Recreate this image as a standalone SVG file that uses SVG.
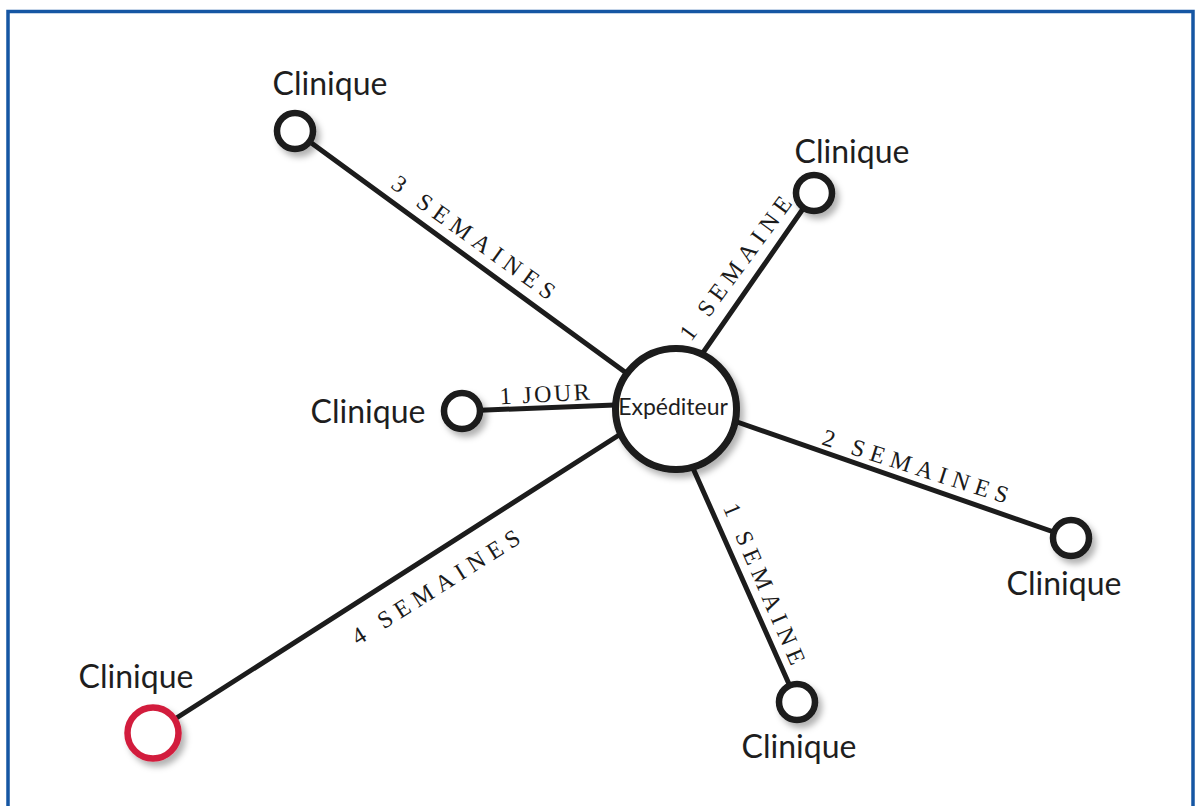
<svg xmlns="http://www.w3.org/2000/svg" width="1195" height="806" viewBox="0 0 1195 806">
  <style>
    .edge { stroke: #1c1c1c; stroke-width: 5; stroke-linecap: round; fill: none; }
    .node { fill: #ffffff; stroke: #1a1a1a; stroke-width: 6.5; filter: url(#shadow); }
    .red { stroke: #d21f3c; }
    .hub { fill: #ffffff; stroke: #1a1a1a; stroke-width: 7; filter: url(#shadow); }
    .name { font-family: Lato, "Liberation Sans", sans-serif; font-size: 32px; fill: #1e1e1e; text-anchor: middle; }
    .hubtext { font-family: Lato, "Liberation Sans", sans-serif; font-size: 23px; fill: #1e1e1e; text-anchor: middle; }
    .lbl { font-family: "Liberation Serif", "Times New Roman", serif; font-size: 24px; fill: #1a1a1a; text-anchor: middle; }
  </style>
  <defs>
    <filter id="shadow" x="-50%" y="-50%" width="200%" height="200%">
      <feDropShadow dx="4" dy="5" stdDeviation="3" flood-color="#000000" flood-opacity="0.3"/>
    </filter>
  </defs>
  <rect x="0" y="0" width="1195" height="806" fill="#ffffff"/>
  <rect x="8" y="11.5" width="1185" height="830" fill="none" stroke="#1556a3" stroke-width="3.5"/>

  <g id="connectors">
    <line class="edge" x1="295" y1="131" x2="640" y2="383"/>
    <line class="edge" x1="814" y1="193" x2="700" y2="357"/>
    <line class="edge" x1="462" y1="411" x2="640" y2="404"/>
    <line class="edge" x1="1071" y1="538" x2="720" y2="416"/>
    <line class="edge" x1="797" y1="702" x2="688" y2="457"/>
    <line class="edge" x1="153" y1="733" x2="630" y2="428"/>
    <text class="lbl" transform="translate(469,244) rotate(35.7)" textLength="195" lengthAdjust="spacing">3 SEMAINES</text>
    <text class="lbl" transform="translate(742,273) rotate(-53.6)" textLength="172" lengthAdjust="spacing">1 SEMAINE</text>
    <text class="lbl" transform="translate(545,402) rotate(-3)" textLength="90" lengthAdjust="spacing">1 JOUR</text>
    <text class="lbl" transform="translate(913,474) rotate(17.8)" textLength="194" lengthAdjust="spacing">2 SEMAINES</text>
    <text class="lbl" transform="translate(757,587) rotate(66.7)" textLength="173" lengthAdjust="spacing">1 SEMAINE</text>
    <text class="lbl" transform="translate(440,594) rotate(-32.3)" textLength="194" lengthAdjust="spacing">4 SEMAINES</text>
  </g>

  <g id="hub">
    <circle class="hub" cx="676" cy="409" r="60.5"/>
    <text class="hubtext" x="673" y="415">Expéditeur</text>
  </g>
  <g id="clinique-tl">
    <circle class="node" cx="295" cy="131" r="18"/>
    <text class="name" x="330" y="95">Clinique</text>
  </g>
  <g id="clinique-tr">
    <circle class="node" cx="814" cy="193" r="18"/>
    <text class="name" x="852" y="163">Clinique</text>
  </g>
  <g id="clinique-ml">
    <circle class="node" cx="462" cy="411" r="18"/>
    <text class="name" x="368" y="423">Clinique</text>
  </g>
  <g id="clinique-r">
    <circle class="node" cx="1071" cy="538" r="18"/>
    <text class="name" x="1064" y="595">Clinique</text>
  </g>
  <g id="clinique-b">
    <circle class="node" cx="797" cy="702" r="18"/>
    <text class="name" x="799" y="758">Clinique</text>
  </g>
  <g id="clinique-bl">
    <circle class="node red" cx="153" cy="733" r="25.5"/>
    <text class="name" x="136" y="688">Clinique</text>
  </g>
</svg>
